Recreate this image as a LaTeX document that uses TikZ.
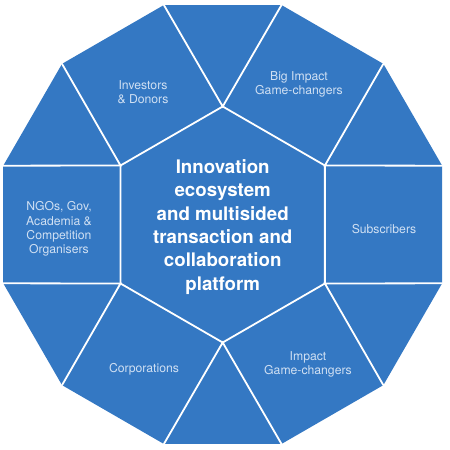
\documentclass[tikz,border=0pt]{standalone}
\usepackage{fontspec}
\setmainfont{TeX Gyre Heros}
\usepackage{xcolor}
\definecolor{ecoblue}{RGB}{52,120,195}
\definecolor{ecolabel}{RGB}{208,224,243}
\tikzset{
  sideline/.style={draw=white, line width=1.8pt, line cap=round},
  sidelabel/.style={inner sep=0.75pt, align=center, text=ecolabel,
    font=\fontsize{12.2}{14.2}\selectfont},
  hublabel/.style={inner sep=0.75pt, align=center, text=white,
    font=\fontsize{18.7}{23.3}\selectfont\bfseries}
}
\begin{document}
\begin{tikzpicture}[x=1pt,y=1pt]
\useasboundingbox (-222.7,-225.5) rectangle (227.3,224.5);

% outer dodecagon and inner hexagon corners
\foreach \k in {0,...,11} \coordinate (d\k) at ({15+30*\k}:227.2);
\foreach \k in {0,...,5} \coordinate (h\k) at ({90+60*\k}:118);

\fill [ecoblue] (d0) -- (d1) -- (d2) -- (d3) -- (d4) -- (d5) -- (d6) -- (d7) -- (d8) -- (d9) -- (d10) -- (d11) -- cycle ;

\draw [sideline] (h0) -- (h1) -- (h2) -- (h3) -- (h4) -- (h5) -- cycle ;
\draw [sideline] (d2) -- (h0) -- (d3) ;
\draw [sideline] (d4) -- (h1) -- (d5) ;
\draw [sideline] (d6) -- (h2) -- (d7) ;
\draw [sideline] (d8) -- (h3) -- (d9) ;
\draw [sideline] (d10) -- (h4) -- (d11) ;
\draw [sideline] (d0) -- (h5) -- (d1) ;

\node [hublabel] (hub) at (0,-2.5) {Innovation\\ecosystem\\and multisided\\transaction and\\collaboration\\platform};
\node [sidelabel] (investors) at (-79.7,132.5) {Investors\\\& Donors};
\node [sidelabel] (bigimpact) at (76.3,140.5) {Big Impact\\Game-changers};
\node [sidelabel] (subscribers) at (161.3,-4.5) {Subscribers};
\node [sidelabel] (impact) at (85.3,-139.5) {Impact\\Game-changers};
\node [sidelabel] (corporations) at (-78.7,-144.5) {Corporations};
\node [sidelabel] (ngos) at (-163.7,-4.5) {NGOs, Gov,\\Academia \&\\Competition\\Organisers};
\end{tikzpicture}
\end{document}
